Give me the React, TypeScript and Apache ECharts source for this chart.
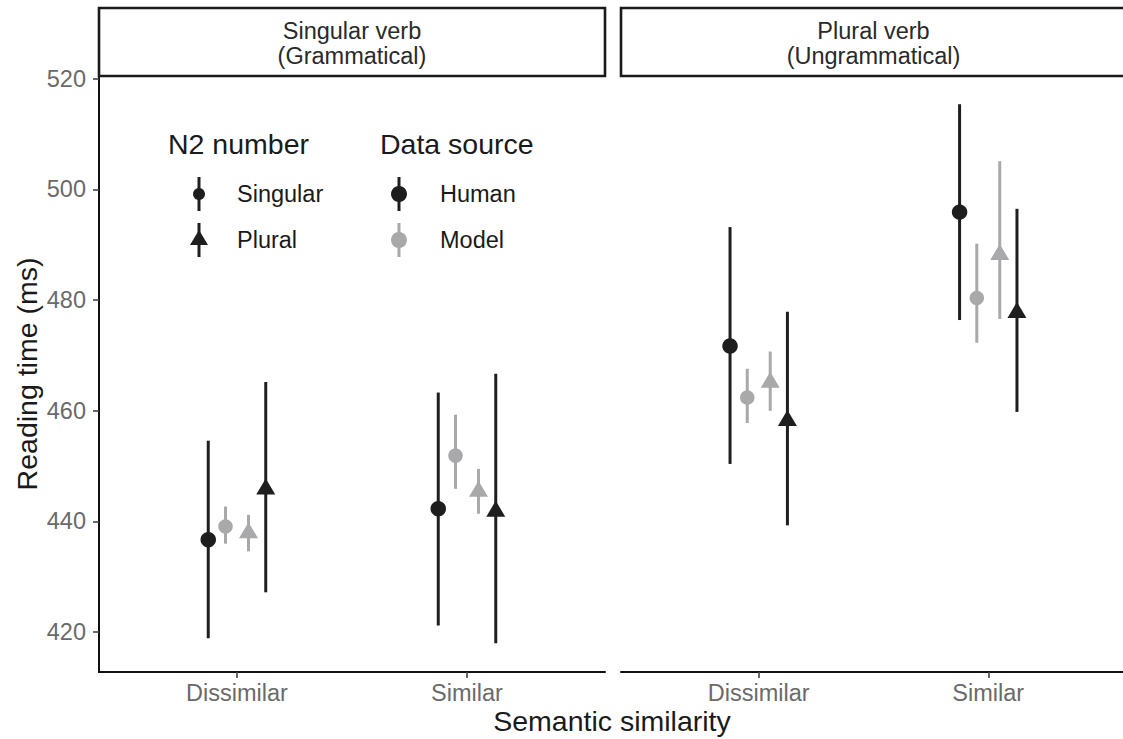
import React, { useEffect, useRef } from "react";
import * as echarts from "echarts";

// ---- Data ----
const panelTitles = [
  ["Singular verb", "(Grammatical)"],
  ["Plural verb", "(Ungrammatical)"],
];
const similarityLevels = ["Dissimilar", "Similar"];
const yTicks = [420, 440, 460, 480, 500, 520];

// order of values: [Singular verb/Dissimilar, Singular verb/Similar, Plural verb/Dissimilar, Plural verb/Similar]
const humanSingularMean = [436.7, 442.3, 471.7, 495.9];
const humanSingularLow = [418.9, 421.2, 450.4, 476.4];
const humanSingularHigh = [454.6, 463.3, 493.2, 515.4];

const modelSingularMean = [439.1, 451.9, 462.4, 480.4];
const modelSingularLow = [436.0, 445.9, 457.8, 472.3];
const modelSingularHigh = [442.7, 459.3, 467.6, 490.2];

const modelPluralMean = [438.4, 445.9, 465.6, 488.7];
const modelPluralLow = [434.6, 441.4, 460.0, 476.6];
const modelPluralHigh = [441.2, 449.5, 470.7, 505.1];

const humanPluralMean = [446.3, 442.3, 458.7, 478.2];
const humanPluralLow = [427.2, 418.0, 439.3, 459.8];
const humanPluralHigh = [465.2, 466.7, 477.9, 496.5];

// ---- Styling / layout ----
const FONT = "Liberation Sans, Arial, Helvetica, sans-serif";
const HUMAN = "#1e1e1e";
const MODEL = "#a9a9ab";
const SMALL = 23.5;
const BIG = 28.5;

const groups = [
  { mean: humanSingularMean, low: humanSingularLow, high: humanSingularHigh, dodge: -0.125, color: HUMAN, symbol: "circle", size: 15.5 },
  { mean: modelSingularMean, low: modelSingularLow, high: modelSingularHigh, dodge: -0.05, color: MODEL, symbol: "circle", size: 14.5 },
  { mean: modelPluralMean, low: modelPluralLow, high: modelPluralHigh, dodge: 0.05, color: MODEL, symbol: "triangle", size: [19, 16] },
  { mean: humanPluralMean, low: humanPluralLow, high: humanPluralHigh, dodge: 0.125, color: HUMAN, symbol: "triangle", size: [19, 16] },
];

const Y_MIN = 412.8;
const Y_MAX = 520.5;
const PLOT_TOP = 76;
const PLOT_H = 596;
const panelsLayout = [
  { left: 99, width: 506 },
  { left: 621, width: 505 },
];

function buildOption() {
  const series: any[] = [];
  panelsLayout.forEach((_, p) => {
    groups.forEach((g) => {
      const rows = similarityLevels.map((_, c) => [
        c + 1 + g.dodge,
        g.low[p * 2 + c],
        g.high[p * 2 + c],
        g.mean[p * 2 + c],
      ]);
      series.push({
        type: "custom",
        xAxisIndex: p,
        yAxisIndex: p,
        data: rows,
        encode: { x: 0, y: [1, 2] },
        renderItem: (params: any, api: any) => {
          const x = api.value(0);
          const a = api.coord([x, api.value(1)]);
          const b = api.coord([x, api.value(2)]);
          return {
            type: "line",
            shape: { x1: a[0], y1: a[1], x2: b[0], y2: b[1] },
            style: { stroke: g.color, lineWidth: 3 },
          };
        },
        silent: true,
      });
      series.push({
        type: "scatter",
        xAxisIndex: p,
        yAxisIndex: p,
        data: rows.map((r) => [r[0], r[3]]),
        symbol: g.symbol,
        symbolSize: g.size,
        itemStyle: { color: g.color, opacity: 1 },
        silent: true,
        z: 3,
      });
    });
  });

  const xAxes = panelsLayout.map((_, p) => ({
    type: "value",
    gridIndex: p,
    min: 0.4,
    max: 2.6,
    axisLine: { show: true, onZero: false, lineStyle: { color: "#111", width: 2 } },
    axisTick: { show: true, customValues: [1, 2], length: 6, lineStyle: { color: "#444", width: 1.6 } },
    axisLabel: {
      show: true,
      customValues: [1, 2],
      formatter: (v: number) => similarityLevels[Math.round(v) - 1] || "",
      fontSize: SMALL,
      color: "#6a6a6a",
      fontFamily: FONT,
      margin: 9,
    },
    splitLine: { show: false },
  }));

  const yAxes = panelsLayout.map((_, p) => ({
    type: "value",
    gridIndex: p,
    min: Y_MIN,
    max: Y_MAX,
    show: p === 0,
    axisLine: { show: true, onZero: false, lineStyle: { color: "#111", width: 2 } },
    axisTick: { show: true, customValues: yTicks, length: 6, lineStyle: { color: "#444", width: 1.6 } },
    axisLabel: {
      show: true,
      customValues: yTicks,
      fontSize: SMALL,
      color: "#6a6a6a",
      fontFamily: FONT,
      margin: 13,
    },
    splitLine: { show: false },
  }));

  const graphic: any[] = [];
  panelsLayout.forEach((pl, p) => {
    graphic.push({
      type: "rect",
      shape: { x: pl.left, y: 8, width: pl.width, height: PLOT_TOP - 8 },
      style: { fill: "#ffffff", stroke: "#1a1a1a", lineWidth: 2.6 },
      z: 10,
    });
    graphic.push({
      type: "text",
      x: pl.left + pl.width / 2,
      y: 43,
      style: {
        text: panelTitles[p].join("\n"),
        fontSize: SMALL,
        lineHeight: 25,
        fontFamily: FONT,
        fill: "#2a2a2a",
        align: "center",
        verticalAlign: "middle",
      },
      z: 11,
    });
  });

  // axis titles
  graphic.push({
    type: "text",
    x: 27,
    y: 374,
    rotation: Math.PI / 2,
    style: { text: "Reading time (ms)", fontSize: BIG, fontFamily: FONT, fill: "#1a1a1a", align: "center", verticalAlign: "middle" },
  });
  graphic.push({
    type: "text",
    x: 612,
    y: 721,
    style: { text: "Semantic similarity", fontSize: BIG, fontFamily: FONT, fill: "#1a1a1a", align: "center", verticalAlign: "middle" },
  });

  // legend
  const txt = (t: string, x: number, y: number, size: number) => ({
    type: "text",
    x,
    y,
    style: { text: t, fontSize: size, fontFamily: FONT, fill: "#1a1a1a", align: "left", verticalAlign: "middle" },
  });
  const vline = (x: number, y: number, color: string) => ({
    type: "line",
    shape: { x1: x, y1: y - 17, x2: x, y2: y + 17 },
    style: { stroke: color, lineWidth: 3 },
  });
  const row1 = 194;
  const row2 = 240;
  const k1 = 199;
  const k2 = 399;
  graphic.push(txt("N2 number", 168, 144, BIG));
  graphic.push(txt("Data source", 380, 144, BIG));
  graphic.push(vline(k1, row1, HUMAN));
  graphic.push({ type: "circle", shape: { cx: k1, cy: row1, r: 6 }, style: { fill: HUMAN } });
  graphic.push(vline(k1, row2, HUMAN));
  graphic.push({
    type: "polygon",
    shape: { points: [[k1, row2 - 10], [k1 - 9, row2 + 5], [k1 + 9, row2 + 5]] },
    style: { fill: HUMAN },
  });
  graphic.push(txt("Singular", 237, row1, SMALL));
  graphic.push(txt("Plural", 237, row2, SMALL));
  graphic.push(vline(k2, row1, HUMAN));
  graphic.push({ type: "circle", shape: { cx: k2, cy: row1, r: 8 }, style: { fill: HUMAN } });
  graphic.push(vline(k2, row2, MODEL));
  graphic.push({ type: "circle", shape: { cx: k2, cy: row2, r: 8 }, style: { fill: MODEL } });
  graphic.push(txt("Human", 440, row1, SMALL));
  graphic.push(txt("Model", 440, row2, SMALL));

  return {
    animation: false,
    backgroundColor: "#ffffff",
    grid: panelsLayout.map((pl) => ({ left: pl.left, top: PLOT_TOP, width: pl.width, height: PLOT_H, containLabel: false })),
    xAxis: xAxes,
    yAxis: yAxes,
    series,
    graphic,
  };
}

export default function App() {
  const ref = useRef<HTMLDivElement>(null);
  useEffect(() => {
    if (!ref.current) return;
    const chart = echarts.init(ref.current, undefined, { renderer: "svg" });
    chart.setOption(buildOption() as any);
    return () => chart.dispose();
  }, []);
  return (
    <div style={{ position: "fixed", left: 0, top: 0, width: 1123, height: 739, overflow: "hidden", background: "#fff" }}>
      <div ref={ref} style={{ width: 1130, height: 739 }} />
    </div>
  );
}
